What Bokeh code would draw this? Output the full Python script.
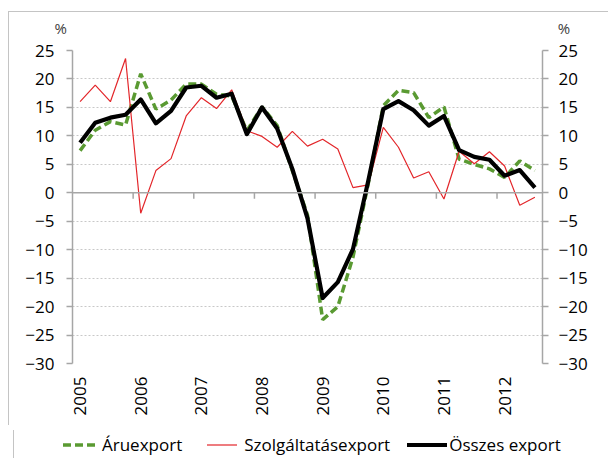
import math
from bokeh.plotting import figure
from bokeh.layouts import column
from bokeh.models import Range1d, FixedTicker, LinearAxis, Span, ColumnDataSource, Div
from bokeh.embed import file_html
from bokeh.resources import INLINE

# ---------------- data ----------------
years = ["2005", "2006", "2007", "2008", "2009", "2010", "2011", "2012"]
quarters = [f"{y}Q{q}" for y in years for q in (1, 2, 3, 4)][:31]

aru = [7.4, 11.0, 12.5, 11.9, 20.9, 14.7, 16.3, 19.1, 19.1, 17.3, 17.0,
       10.9, 15.1, 11.8, 3.9, -3.9, -22.3, -20.0, -11.3, 1.5, 15.3, 18.0,
       17.6, 13.2, 15.1, 5.9, 5.0, 4.2, 2.7, 5.6, 3.9]
szolg = [16.0, 18.9, 16.0, 23.6, -3.6, 3.9, 6.0, 13.5, 16.7, 14.8, 18.1,
         10.9, 9.9, 8.0, 10.8, 8.2, 9.4, 7.7, 0.9, 1.4, 11.5, 8.0,
         2.6, 3.7, -1.1, 7.3, 5.1, 7.2, 4.7, -2.2, -0.8]
osszes = [8.8, 12.3, 13.2, 13.7, 16.4, 12.2, 14.4, 18.5, 18.8, 16.7, 17.4,
          10.3, 15.0, 11.3, 4.2, -4.5, -18.5, -15.7, -9.9, 2.0, 14.7, 16.1,
          14.5, 11.8, 13.5, 7.5, 6.3, 5.8, 3.0, 4.0, 0.9]
y_ticks = list(range(-30, 30, 5))
series_names = ["Áruexport", "Szolgáltatásexport", "Összes export"]
unit = "%"

# ---------------- styles ----------------
FONT = "Open Sans"
AXIS_GRAY = "#a6a6a6"
FRAME_GRAY = "#c4c4c4"
keys = ("aru", "szolg", "osszes")
colors = dict(aru="#5a9a32", szolg="#e3262a", osszes="black")
widths = dict(aru=3.5, szolg=1.2, osszes=4.2)
dashes = dict(aru="8 4", szolg="solid", osszes="solid")

n = len(quarters)
x = [i + 0.5 for i in range(n)]
src = ColumnDataSource(dict(x=x, aru=aru, szolg=szolg, osszes=osszes))

# ---------------- main chart ----------------
p = figure(frame_width=470, frame_height=313,
           x_range=Range1d(0, n), y_range=Range1d(-30, 25),
           output_backend="svg", toolbar_location=None,
           min_border_left=72, min_border_right=66, min_border_top=50,
           min_border_bottom=62)
p.outline_line_color = None
p.border_fill_color = None
p.styles = {"background": f"linear-gradient({FRAME_GRAY}, {FRAME_GRAY}) 8px 11px / 600px 1px no-repeat, "
                          f"linear-gradient({FRAME_GRAY}, {FRAME_GRAY}) 8px 11px / 1px 500px no-repeat, "
                          "white"}

# unit labels above both value axes (one title, spaced with no-break spaces)
p.title.text = unit + "\u00a0" * 126 + unit
p.title.align = "left"
p.title.offset = -18
p.title.standoff = 26
p.title.text_font = FONT
p.title.text_font_size = "15px"
p.title.text_font_style = "normal"
p.title.text_color = "#404040"

p.xgrid.visible = False
p.ygrid.ticker = FixedTicker(ticks=y_ticks)
p.ygrid.grid_line_color = "#c8c8c8"
p.ygrid.grid_line_dash = "2 2"
p.ygrid.grid_line_width = 1

def style_y(ax, standoff):
    ax.ticker = FixedTicker(ticks=y_ticks)
    ax.axis_line_color = AXIS_GRAY
    ax.axis_line_width = 1.5
    ax.major_tick_line_color = AXIS_GRAY
    ax.major_tick_line_width = 1.5
    ax.major_tick_out = 6
    ax.major_tick_in = 0
    ax.minor_tick_line_color = None
    ax.minor_tick_out = 0
    ax.major_label_text_font = FONT
    ax.major_label_text_font_size = "17px"
    ax.major_label_text_color = "black"
    ax.major_label_standoff = standoff

style_y(p.yaxis[0], 12)
yr = LinearAxis()
style_y(yr, 10)
p.add_layout(yr, "right")

xa = p.xaxis[0]
label_ticks = [4 * k + 0.5 for k in range(len(years))]
xa.ticker = FixedTicker(ticks=label_ticks)
xa.major_label_overrides = {t: y for t, y in zip(label_ticks, years)}
xa.major_label_orientation = math.pi / 2
xa.axis_line_color = None
xa.major_tick_line_color = None
xa.minor_tick_line_color = None
xa.major_tick_out = 0
xa.minor_tick_out = 0
xa.major_label_standoff = 13
xa.major_label_text_font = FONT
xa.major_label_text_font_size = "17px"
xa.major_label_text_color = "black"

# category axis at zero
p.add_layout(Span(location=0, dimension="width", line_color=AXIS_GRAY, line_width=1.5))
bounds = [4 * k for k in range(1, len(years))]
p.segment(x0=bounds, y0=[0] * len(bounds), x1=bounds, y1=[-1.05] * len(bounds),
          line_color=AXIS_GRAY, line_width=1.5)

for key in keys:
    p.line("x", key, source=src, line_color=colors[key], line_width=widths[key],
           line_dash=dashes[key], line_join="round" if key == "osszes" else "bevel")

# ---------------- legend strip (below the chart) ----------------
swatch_w = dict(aru=34, szolg=30, osszes=40)
gap_after_swatch = dict(aru=5, szolg=7, osszes=2)
gap_after_text = dict(aru=25, szolg=17, osszes=0)
parts = []
for key, name in zip(keys, series_names):
    w = swatch_w[key]
    dash_attr = f' stroke-dasharray="{dashes[key]}"' if dashes[key] != "solid" else ""
    parts.append(
        f'<svg width="{w}" height="10" style="flex:none">'
        f'<line x1="0" y1="5" x2="{w}" y2="5" stroke="{colors[key]}" '
        f'stroke-width="{widths[key]}"{dash_attr}/></svg>'
        f'<span style="margin-left:{gap_after_swatch[key]}px;'
        f'margin-right:{gap_after_text[key]}px">{name}</span>')
legend_html = (
    f'<div style="position:relative;width:608px;height:33px;'
    f'background:linear-gradient({FRAME_GRAY},{FRAME_GRAY}) 8px 0 / 1px 33px no-repeat, white;'
    f'font-family:\'{FONT}\';font-size:17px;color:black;">'
    f'<div style="position:absolute;left:58px;top:0;height:30px;display:flex;'
    f'align-items:center;white-space:nowrap;">' + "".join(parts) + '</div></div>')
legend_div = Div(text=legend_html, width=608, height=33)

layout = column(p, legend_div, spacing=0)
open("out.html", "w").write(file_html(layout, INLINE))
